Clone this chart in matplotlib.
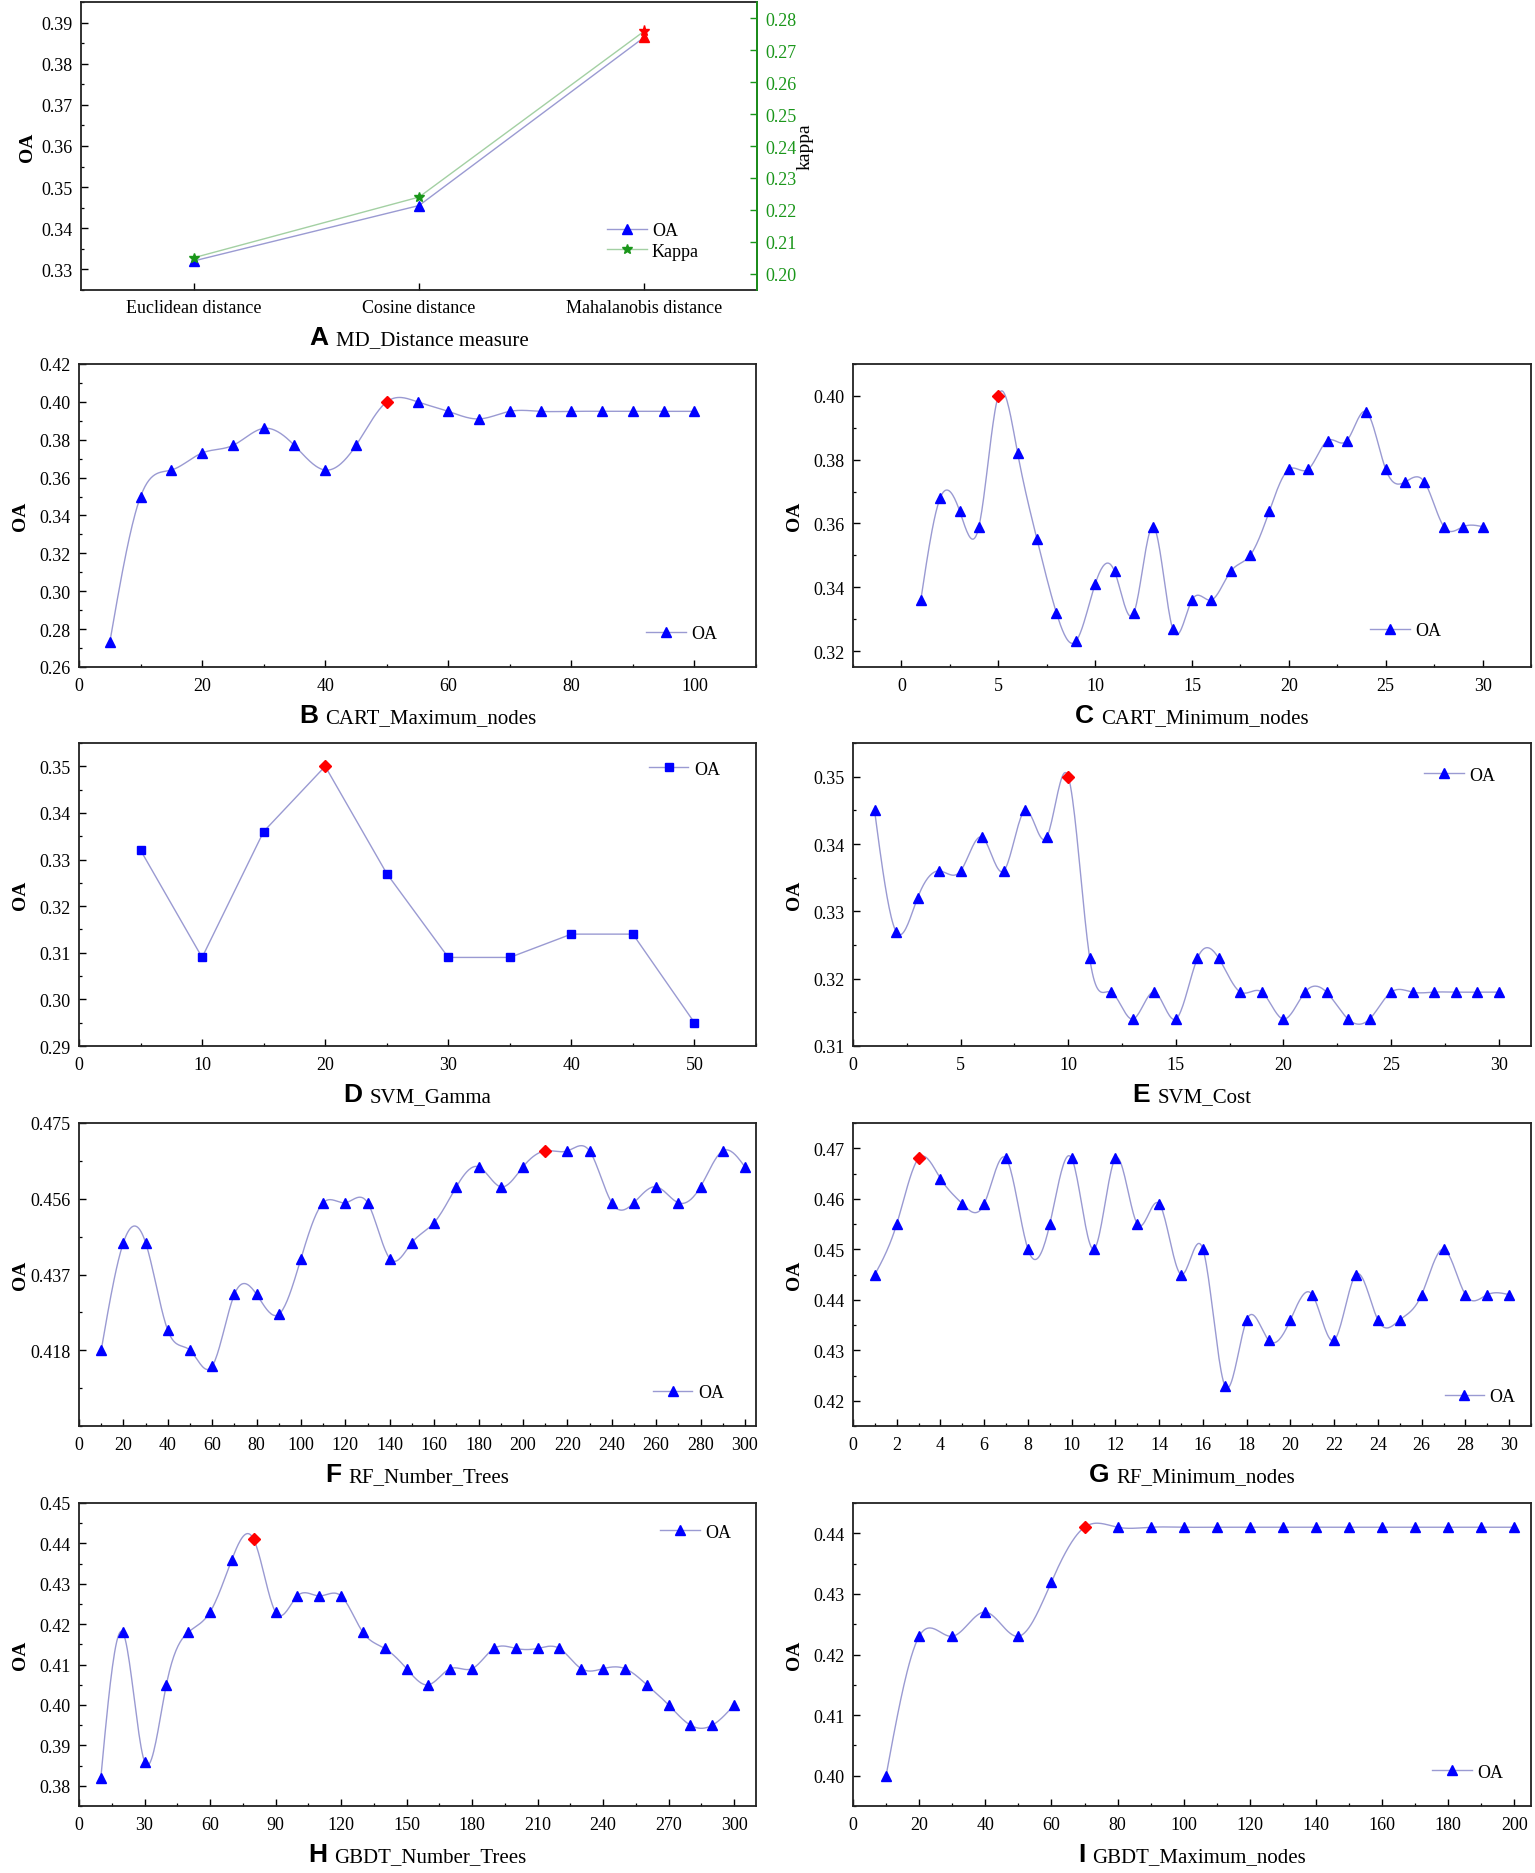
import numpy as np
import matplotlib
matplotlib.use("Agg")
import matplotlib.pyplot as plt
from matplotlib.ticker import MultipleLocator, FormatStrFormatter, FixedLocator
from matplotlib.offsetbox import TextArea, HPacker, AnnotationBbox
from matplotlib.lines import Line2D

# ---------------- data ----------------
md_categories = ["Euclidean distance", "Cosine distance", "Mahalanobis distance"]
md_oa = [0.332, 0.3455, 0.3865]
md_kappa = [0.205, 0.224, 0.276]

cart_max_x = [5, 10, 15, 20, 25, 30, 35, 40, 45, 50, 55, 60, 65, 70, 75, 80, 85, 90, 95, 100]
cart_max_oa = [0.273, 0.350, 0.364, 0.373, 0.377, 0.386, 0.377, 0.364, 0.377, 0.400,
               0.400, 0.395, 0.391, 0.395, 0.395, 0.395, 0.395, 0.395, 0.395, 0.395]

cart_min_x = list(range(1, 31))
cart_min_oa = [0.336, 0.368, 0.364, 0.359, 0.400, 0.382, 0.355, 0.332, 0.323, 0.341,
               0.345, 0.332, 0.359, 0.327, 0.336, 0.336, 0.345, 0.350, 0.364, 0.377,
               0.377, 0.386, 0.386, 0.395, 0.377, 0.373, 0.373, 0.359, 0.359, 0.359]

svm_gamma_x = [5, 10, 15, 20, 25, 30, 35, 40, 45, 50]
svm_gamma_oa = [0.332, 0.309, 0.336, 0.350, 0.327, 0.309, 0.309, 0.314, 0.314, 0.295]

svm_cost_x = list(range(1, 31))
svm_cost_oa = [0.345, 0.327, 0.332, 0.336, 0.336, 0.341, 0.336, 0.345, 0.341, 0.350,
               0.323, 0.318, 0.314, 0.318, 0.314, 0.323, 0.323, 0.318, 0.318, 0.314,
               0.318, 0.318, 0.314, 0.314, 0.318, 0.318, 0.318, 0.318, 0.318, 0.318]

rf_trees_x = list(range(10, 301, 10))
rf_trees_oa = [0.418, 0.445, 0.445, 0.423, 0.418, 0.414, 0.432, 0.432, 0.427, 0.441,
               0.455, 0.455, 0.455, 0.441, 0.445, 0.450, 0.459, 0.464, 0.459, 0.464,
               0.468, 0.468, 0.468, 0.455, 0.455, 0.459, 0.455, 0.459, 0.468, 0.464]

rf_min_x = list(range(1, 31))
rf_min_oa = [0.445, 0.455, 0.468, 0.464, 0.459, 0.459, 0.468, 0.450, 0.455, 0.468,
             0.450, 0.468, 0.455, 0.459, 0.445, 0.450, 0.423, 0.436, 0.432, 0.436,
             0.441, 0.432, 0.445, 0.436, 0.436, 0.441, 0.450, 0.441, 0.441, 0.441]

gbdt_trees_x = list(range(10, 301, 10))
gbdt_trees_oa = [0.382, 0.418, 0.386, 0.405, 0.418, 0.423, 0.436, 0.441, 0.423, 0.427,
                 0.427, 0.427, 0.418, 0.414, 0.409, 0.405, 0.409, 0.409, 0.414, 0.414,
                 0.414, 0.414, 0.409, 0.409, 0.409, 0.405, 0.400, 0.395, 0.395, 0.400]

gbdt_nodes_x = list(range(10, 201, 10))
gbdt_nodes_oa = [0.400, 0.423, 0.423, 0.427, 0.423, 0.432, 0.441, 0.441, 0.441, 0.441,
                 0.441, 0.441, 0.441, 0.441, 0.441, 0.441, 0.441, 0.441, 0.441, 0.441]

# ---------------- style ----------------
SERIF = "Liberation Serif"
SANS = "Liberation Sans"
LINE_C = "#9a9ad2"
BLUE = "#0000ff"
RED = "#ff0000"
GREEN = "#1a961a"
KLINE = "#a3d0a3"
W, H = 1535, 1874
TICK_FS = 13

plt.rcParams["font.family"] = [SERIF, "DejaVu Serif"]
plt.rcParams["font.size"] = 13

fig = plt.figure(figsize=(W / 100, H / 100), dpi=100)


def rect(l, r, t, b):
    return [l / W, 1 - b / H, (r - l) / W, (b - t) / H]


def natural_spline(x, y, n=600):
    x = np.asarray(x, float)
    y = np.asarray(y, float)
    m = len(x)
    h = np.diff(x)
    A = np.zeros((m, m))
    r = np.zeros(m)
    A[0, 0] = 1.0
    A[-1, -1] = 1.0
    for i in range(1, m - 1):
        A[i, i - 1] = h[i - 1]
        A[i, i] = 2 * (h[i - 1] + h[i])
        A[i, i + 1] = h[i]
        r[i] = 6 * ((y[i + 1] - y[i]) / h[i] - (y[i] - y[i - 1]) / h[i - 1])
    M = np.linalg.solve(A, r)
    xs = np.linspace(x[0], x[-1], n)
    k = np.clip(np.searchsorted(x, xs) - 1, 0, m - 2)
    hk = h[k]
    a = (x[k + 1] - xs) / hk
    b = (xs - x[k]) / hk
    ys = (a * y[k] + b * y[k + 1]
          + ((a ** 3 - a) * M[k] + (b ** 3 - b) * M[k + 1]) * hk ** 2 / 6)
    return xs, ys


def style_axes(ax):
    for s in ax.spines.values():
        s.set_linewidth(1.3)
        s.set_color("#222222")
    ax.tick_params(which="both", direction="in", top=False, right=False,
                   labelsize=TICK_FS, pad=6)
    ax.tick_params(which="major", length=5, width=1)
    ax.tick_params(which="minor", length=2.5, width=0.9)
    ax.tick_params(axis="x", pad=7)


def caption(ax, letter, text, y=-0.16):
    ta = TextArea(letter, textprops=dict(family=SANS, weight="bold", size=19))
    tb = TextArea(text, textprops=dict(family=SERIF, size=15))
    pk = HPacker(children=[ta, tb], align="baseline", pad=0, sep=5)
    ab = AnnotationBbox(pk, (0.5, y), xycoords="axes fraction",
                        frameon=False, box_alignment=(0.5, 0.5),
                        annotation_clip=False)
    ax.add_artist(ab)


def oa_panel(pos, x, y, xlim, ylim, xmaj, xmin, ymaj, ymin, yfmt, letter, title,
             leg_xy, smooth=True, marker="^", ms=7.5, yticks=None):
    ax = fig.add_axes(pos)
    style_axes(ax)
    x = np.asarray(x, float)
    y = np.asarray(y, float)
    if smooth:
        xs, ys = natural_spline(x, y)
        ax.plot(xs, ys, color=LINE_C, lw=1.0, zorder=2)
    else:
        ax.plot(x, y, color=LINE_C, lw=1.0, zorder=2)
    best = int(np.argmax(y))
    mask = np.ones(len(x), bool)
    mask[best] = False
    ax.plot(x[mask], y[mask], linestyle="none", marker=marker, ms=ms,
            color=BLUE, mec=BLUE, zorder=3)
    ax.plot([x[best]], [y[best]], linestyle="none", marker="D", ms=6.5,
            color=RED, mec=RED, zorder=4)
    ax.set_xlim(*xlim)
    ax.set_ylim(*ylim)
    ax.xaxis.set_major_locator(MultipleLocator(xmaj))
    ax.xaxis.set_minor_locator(MultipleLocator(xmin))
    if yticks is not None:
        ax.yaxis.set_major_locator(FixedLocator(yticks))
    else:
        ax.yaxis.set_major_locator(MultipleLocator(ymaj))
    ax.yaxis.set_minor_locator(MultipleLocator(ymin))
    ax.yaxis.set_major_formatter(FormatStrFormatter(yfmt))
    ax.set_ylabel("OA", fontsize=14, fontweight="bold")
    ax.yaxis.set_label_coords(-0.074, 0.5)
    handle = Line2D([], [], color=LINE_C, lw=1.0, marker=marker, ms=ms,
                    mfc=BLUE, mec=BLUE)
    ax.legend([handle], ["OA"], loc="center", bbox_to_anchor=leg_xy,
              frameon=False, fontsize=13, handlelength=2.2, handletextpad=0.3)
    caption(ax, letter, title)
    return ax


# ---------------- panel A ----------------
axA = fig.add_axes(rect(81, 757, 3.3, 290.7))
style_axes(axA)
xc = np.arange(1, len(md_categories) + 1)
oa = np.asarray(md_oa)
kp = np.asarray(md_kappa)
axA.plot(xc, oa, color=LINE_C, lw=1.0, zorder=2)
bA = int(np.argmax(oa))
mA = np.arange(len(oa)) != bA
axA.plot(xc[mA], oa[mA], ls="none", marker="^", ms=7.5, color=BLUE, zorder=3)
axA.plot([xc[bA]], [oa[bA]], ls="none", marker="^", ms=7.5, color=RED, zorder=3)
axA.set_xlim(0.5, 3.5)
axA.set_ylim(0.325, 0.395)
axA.set_xticks(xc)
axA.set_xticklabels(md_categories, fontsize=TICK_FS)
axA.yaxis.set_major_locator(MultipleLocator(0.01))
axA.yaxis.set_minor_locator(MultipleLocator(0.005))
axA.yaxis.set_major_formatter(FormatStrFormatter("%.2f"))
axA.set_ylabel("OA", fontsize=14, fontweight="bold")
axA.yaxis.set_label_coords(-0.066, 0.5)

axK = axA.twinx()
axK.plot(xc, kp, color=KLINE, lw=1.0, zorder=2)
bK = int(np.argmax(kp))
mK = np.arange(len(kp)) != bK
axK.plot(xc[mK], kp[mK], ls="none", marker="*", ms=7, color=GREEN, zorder=3)
axK.plot([xc[bK]], [kp[bK]], ls="none", marker="*", ms=8, color=RED, zorder=3)
axK.set_ylim(0.195, 0.285)
axK.yaxis.set_major_locator(MultipleLocator(0.01))
axK.yaxis.set_major_formatter(FormatStrFormatter("%.2f"))
axK.spines["right"].set_color(GREEN)
axK.spines["right"].set_linewidth(1.3)
for s in ["left", "top", "bottom"]:
    axK.spines[s].set_visible(False)
axK.tick_params(axis="y", direction="in", length=5, width=1, colors=GREEN,
                labelsize=TICK_FS, pad=6)
axK.set_ylabel("kappa", fontsize=14, rotation=90)
axK.yaxis.set_label_coords(1.059, 0.5)
hA = [Line2D([], [], color=LINE_C, lw=1.0, marker="^", ms=7, mfc=BLUE, mec=BLUE),
      Line2D([], [], color=KLINE, lw=1.0, marker="*", ms=7, mfc=GREEN, mec=GREEN)]
axA.legend(hA, ["OA", "Kappa"], loc="center", bbox_to_anchor=(0.846, 0.17),
           frameon=False, fontsize=13, handlelength=2.2, handletextpad=0.3,
           labelspacing=0.2)
caption(axA, "A", "MD_Distance measure", y=-0.165)

# ---------------- panels B - I ----------------
L1, R1 = 79, 756
L2, R2 = 853, 1531
rows = [(365, 668), (744, 1047), (1124, 1427), (1504, 1807)]

oa_panel(rect(L1, R1, *rows[0]), cart_max_x, cart_max_oa, (0, 110), (0.26, 0.42),
         20, 10, 0.02, 0.01, "%.2f", "B", "CART_Maximum_nodes", (0.89, 0.11))
oa_panel(rect(L2, R2, *rows[0]), cart_min_x, cart_min_oa, (-2.5, 32.5), (0.315, 0.41),
         5, 2.5, 0.02, 0.01, "%.2f", "C", "CART_Minimum_nodes", (0.815, 0.12))
oa_panel(rect(L1, R1, *rows[1]), svm_gamma_x, svm_gamma_oa, (0, 55), (0.29, 0.355),
         10, 5, 0.01, 0.005, "%.2f", "D", "SVM_Gamma", (0.894, 0.914),
         smooth=False, marker="s", ms=5.5)
oa_panel(rect(L2, R2, *rows[1]), svm_cost_x, svm_cost_oa, (0, 31.5), (0.31, 0.355),
         5, 2.5, 0.01, 0.005, "%.2f", "E", "SVM_Cost", (0.895, 0.894))
oa_panel(rect(L1, R1, *rows[2]), rf_trees_x, rf_trees_oa, (0, 305), (0.399, 0.475),
         20, 10, 0.019, 0.0095, "%.3f", "F", "RF_Number_Trees", (0.90, 0.109),
         yticks=[0.418, 0.437, 0.456, 0.475])
oa_panel(rect(L2, R2, *rows[2]), rf_min_x, rf_min_oa, (0, 31), (0.415, 0.475),
         2, 1, 0.01, 0.005, "%.2f", "G", "RF_Minimum_nodes", (0.925, 0.096))
oa_panel(rect(L1, R1, *rows[3]), gbdt_trees_x, gbdt_trees_oa, (0, 310), (0.375, 0.45),
         30, 15, 0.01, 0.005, "%.2f", "H", "GBDT_Number_Trees", (0.911, 0.904))
oa_panel(rect(L2, R2, *rows[3]), gbdt_nodes_x, gbdt_nodes_oa, (0, 205), (0.395, 0.445),
         20, 10, 0.01, 0.005, "%.2f", "I", "GBDT_Maximum_nodes", (0.907, 0.112))

fig.savefig("out.png", dpi=100, facecolor="white")
